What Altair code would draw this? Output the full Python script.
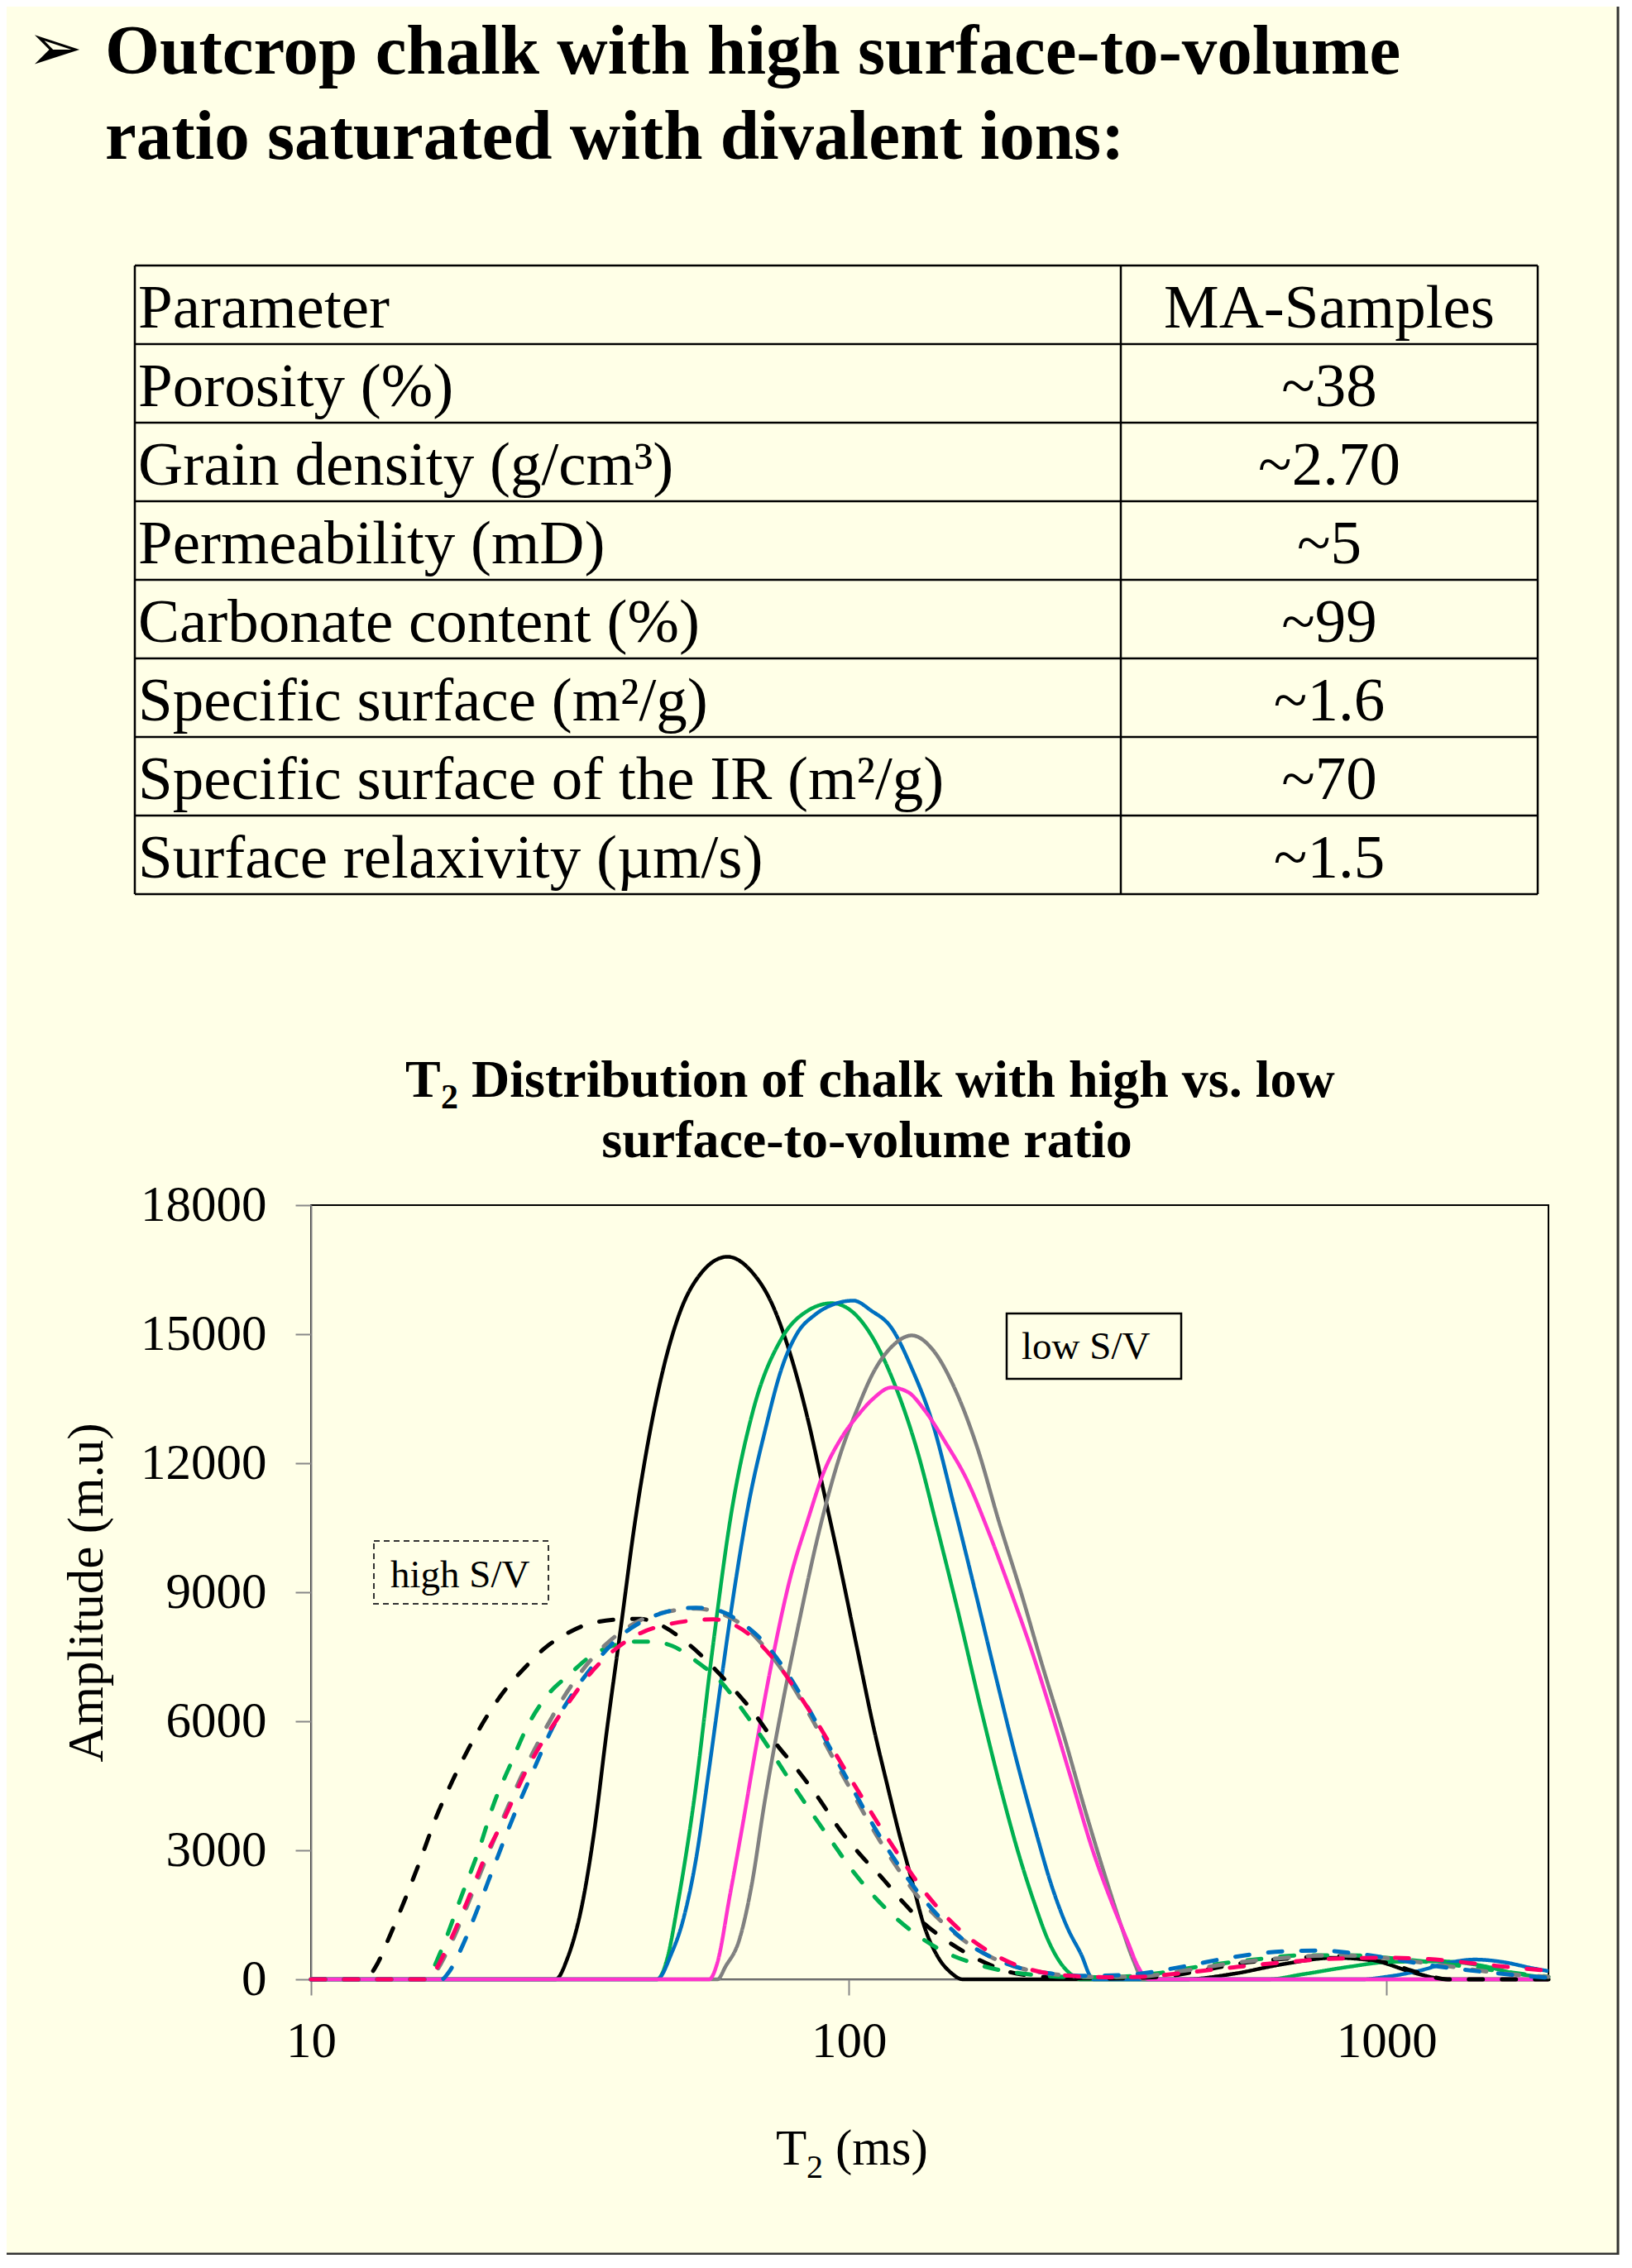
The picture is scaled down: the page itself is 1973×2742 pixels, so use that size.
import altair as alt
import pandas as pd

# ---------------- text content ----------------
HEADING_1 = "Outcrop chalk with high surface-to-volume"
HEADING_2 = "ratio saturated with divalent ions:"
TABLE_HEADER = ["Parameter", "MA-Samples"]
PARAMS = ["Porosity (%)", "Grain density (g/cm³)", "Permeability (mD)",
          "Carbonate content (%)", "Specific surface (m²/g)",
          "Specific surface of the IR (m²/g)", "Surface relaxivity (µm/s)"]
VALUES = ["~38", "~2.70", "~5", "~99", "~1.6", "~70", "~1.5"]

X_TICKS = [10, 100, 1000]
Y_TICKS = [0, 3000, 6000, 9000, 12000, 15000, 18000]

# ---------------- T2 distributions (T2 in ms, amplitude in m.u) ----------------
LOW_BLACK_T = [10, 28.5, 30, 32, 33.5, 35.5, 37.7, 40, 42.5, 45, 48.5, 53, 59.5, 66, 72, 78, 84, 90, 96, 104, 111, 118, 124, 131, 138, 146, 155, 163, 420, 520, 640, 800, 950, 1140, 1300, 2000]
LOW_BLACK_A = [0, 0, 500, 1800, 3300, 5800, 8200, 10600, 12600, 14100, 15500, 16400, 16800, 16450, 15700, 14500, 13000, 11300, 9700, 7600, 5900, 4500, 3400, 2300, 1250, 550, 150, 0, 0, 130, 350, 500, 430, 130, 0, 0]

LOW_GREEN_T = [10, 44, 46, 48, 51.6, 55.7, 60.4, 66.3, 75, 84, 93, 103, 111, 122, 134, 146, 160, 176, 192, 206, 221, 235, 247, 260, 270, 600, 700, 860, 1000, 1250, 1500, 1750, 2000]
LOW_GREEN_A = [0, 0, 500, 1700, 4200, 7600, 10800, 13200, 14900, 15550, 15720, 15450, 14900, 13800, 12300, 10500, 8500, 6300, 4400, 3000, 1800, 900, 400, 100, 0, 0, 120, 300, 400, 420, 320, 130, 40]

LOW_BLUE_T = [10, 44, 46.8, 49, 52, 55, 58, 61.5, 65, 70, 75, 80, 86.5, 94, 102, 110, 120, 131, 143, 157, 172, 188, 206, 222, 238, 255, 270, 285, 900, 1000, 1150, 1300, 1460, 1650, 1850, 2000]
LOW_BLUE_A = [0, 0, 600, 1300, 2800, 4900, 7000, 9200, 11000, 12800, 14200, 15000, 15450, 15700, 15780, 15550, 15150, 14200, 12950, 11000, 9000, 7000, 5000, 3500, 2200, 1200, 600, 0, 0, 60, 200, 380, 460, 400, 270, 190]

LOW_GRAY_T = [10, 57, 59, 62.5, 66, 69.7, 75, 80.5, 88, 96.4, 104, 111, 120, 131, 143, 158, 174, 190, 209, 229, 252, 275, 298, 321, 338, 353, 2000]
LOW_GRAY_A = [0, 0, 300, 900, 2200, 4100, 6300, 8200, 10400, 12200, 13300, 14100, 14700, 14970, 14650, 13690, 12300, 10660, 9000, 7300, 5600, 3940, 2500, 1245, 450, 0, 0]

LOW_MAGENTA_T = [10, 55, 57, 60, 63.5, 67, 72, 77.6, 84, 89.7, 97, 103.8, 111, 120, 129, 138, 151, 166, 182, 199, 218, 238, 260, 285, 308, 330, 345, 361, 2000]
LOW_MAGENTA_A = [0, 0, 400, 1900, 3600, 5300, 7400, 9270, 10700, 11770, 12600, 13100, 13500, 13760, 13650, 13250, 12500, 11600, 10400, 9100, 7700, 6200, 4600, 2950, 1800, 880, 300, 0, 0]

HIGH_BLACK_T = [10, 12.6, 13.2, 14, 15, 16, 17, 18.3, 19.7, 21.2, 22.7, 25, 27.2, 30, 32.6, 37.7, 41, 43.5, 50.3, 58, 67, 73, 80.5, 88, 96, 105, 115.5, 126, 138, 152, 166, 182, 199, 220, 240, 300, 380, 450, 540, 650, 815, 1000, 1150, 1300, 2000]
HIGH_BLACK_A = [0, 0, 300, 1000, 1900, 2800, 3700, 4600, 5400, 6100, 6650, 7250, 7700, 8050, 8250, 8370, 8380, 8300, 7800, 7050, 6150, 5500, 4850, 4200, 3500, 2900, 2350, 1800, 1300, 900, 600, 350, 170, 80, 40, 20, 60, 200, 380, 480, 540, 380, 150, 0, 0]

HIGH_GREEN_T = [10, 16.3, 16.7, 17.5, 19, 20.5, 21.9, 23.5, 25.3, 27.5, 30.3, 33, 36.3, 40, 43, 47, 52, 58, 64, 70, 77, 85, 93, 102, 112, 123, 135, 150, 168, 190, 215, 250, 300, 380, 450, 560, 700, 850, 1000, 1200, 1500, 1800, 2000]
HIGH_GREEN_A = [0, 0, 150, 700, 1900, 3000, 4100, 5000, 5900, 6600, 7100, 7500, 7750, 7850, 7850, 7750, 7400, 6900, 6200, 5500, 4700, 3900, 3200, 2500, 1900, 1400, 1000, 650, 400, 220, 120, 60, 50, 150, 300, 450, 560, 560, 500, 400, 250, 120, 60]

HIGH_GRAY_T = [10, 16.5, 17, 18, 19.5, 21, 22.5, 25, 27.5, 30, 33, 37, 41, 46, 52, 58, 64, 70, 77, 85, 93, 102, 112, 123, 135, 150, 166, 185, 210, 240, 280, 340, 420, 520, 650, 800, 950, 1150, 1400, 1700, 2000]
HIGH_GRAY_A = [0, 0, 150, 700, 1700, 2700, 3600, 4900, 5900, 6700, 7400, 8000, 8350, 8550, 8620, 8500, 8200, 7700, 7000, 6100, 5200, 4300, 3400, 2600, 1900, 1300, 850, 500, 250, 120, 60, 60, 200, 380, 500, 560, 520, 400, 250, 120, 60]

HIGH_BLUE_T = [10, 17.5, 18, 19, 20.5, 22, 24, 26, 28, 30.5, 33.5, 37, 41, 46, 52, 57, 63, 70, 77, 85, 93, 102, 112, 123, 135, 150, 166, 185, 210, 240, 280, 340, 420, 520, 640, 750, 880, 1000, 1200, 1500, 1800, 2000]
HIGH_BLUE_A = [0, 0, 150, 700, 1700, 2700, 3900, 4900, 5800, 6600, 7300, 7900, 8300, 8550, 8640, 8580, 8300, 7800, 7100, 6200, 5300, 4400, 3500, 2700, 2000, 1350, 850, 500, 250, 130, 80, 120, 300, 520, 650, 670, 600, 500, 330, 180, 80, 40]

HIGH_RED_T = [10, 16.5, 17, 18, 19.5, 21, 23, 25, 27.5, 30, 33, 37, 41, 46, 52, 56, 61, 67, 73, 80, 88, 96, 105, 115, 126, 138, 152, 168, 185, 205, 230, 260, 300, 350, 420, 520, 650, 800, 1000, 1200, 1500, 1800, 2000]
HIGH_RED_A = [0, 0, 200, 800, 1800, 2800, 3800, 4800, 5700, 6400, 7100, 7700, 8050, 8250, 8350, 8370, 8250, 7900, 7400, 6700, 5900, 5100, 4300, 3500, 2750, 2050, 1450, 950, 600, 330, 160, 80, 50, 60, 150, 280, 400, 480, 500, 470, 350, 250, 200]

SERIES = [
    ("low black", "#000000", False, LOW_BLACK_T, LOW_BLACK_A),
    ("low green", "#00B050", False, LOW_GREEN_T, LOW_GREEN_A),
    ("low blue", "#0070C0", False, LOW_BLUE_T, LOW_BLUE_A),
    ("low gray", "#808080", False, LOW_GRAY_T, LOW_GRAY_A),
    ("low magenta", "#FF33CC", False, LOW_MAGENTA_T, LOW_MAGENTA_A),
    ("high black", "#000000", True, HIGH_BLACK_T, HIGH_BLACK_A),
    ("high green", "#00B050", True, HIGH_GREEN_T, HIGH_GREEN_A),
    ("high gray", "#808080", True, HIGH_GRAY_T, HIGH_GRAY_A),
    ("high blue", "#0070C0", True, HIGH_BLUE_T, HIGH_BLUE_A),
    ("high red", "#FF0066", True, HIGH_RED_T, HIGH_RED_A),
]

BG = "#FFFFE7"
SERIF = "Liberation Serif"
W, H = 1496, 936
PAD = {"left": 368, "top": 1449, "right": 86, "bottom": 333}

xscale = alt.Scale(type="log", domain=[10, 2000], nice=False)
yscale = alt.Scale(domain=[0, 18000], nice=False, zero=True)
xaxis = alt.Axis(values=X_TICKS, format="d", title=None, labelFont=SERIF, labelFontSize=61,
                 labelColor="black", labelPadding=26, tickSize=19, tickWidth=2, tickColor="#888888",
                 domainColor="#888888", domainWidth=2, grid=False, labelFlush=False)
yaxis = alt.Axis(values=Y_TICKS, format="d", title="Amplitude (m.u)", labelFont=SERIF, labelFontSize=61,
                 labelColor="black", labelPadding=35, tickSize=19, tickWidth=2, tickColor="#888888",
                 domainColor="#888888", domainWidth=2, grid=False,
                 titleFont=SERIF, titleFontSize=61, titleFontWeight="normal", titleColor="black",
                 titleAngle=270, titleX=-271, titleY=468, titleAlign="center", titleBaseline="middle")

line_layers = []
for name, color, dashed, ts, amps in SERIES:
    df = pd.DataFrame({"t": ts, "a": amps})
    mk = alt.Chart(df).mark_line(
        color=color, strokeWidth=5 if dashed else 4.5, interpolate="monotone",
        strokeDash=[17, 23] if dashed else [1, 0], strokeCap="round" if dashed else "butt",
        strokeJoin="round")
    line_layers.append(mk.encode(x=alt.X("t:Q", scale=xscale, axis=xaxis),
                                 y=alt.Y("a:Q", scale=yscale, axis=yaxis)))
lines = alt.layer(*line_layers)

# ---------------- table ----------------
tscale = alt.Scale(domain=[0, 8], range=[-1136, -376], nice=False, zero=False)
TL, TD, TR = -213, 979, 1483
rows_df = pd.DataFrame({"param": [TABLE_HEADER[0]] + PARAMS,
                        "value": [TABLE_HEADER[1]] + VALUES,
                        "row": list(range(1, 9))})
hl_df = pd.DataFrame({"row": list(range(9))})
vl_df = pd.DataFrame({"row": [0], "row2": [8]})

hlines = alt.Chart(hl_df).mark_rule(color="black", strokeWidth=2.5).encode(
    y=alt.Y("row:Q", scale=tscale, axis=None), x=alt.value(TL), x2=alt.value(TR))
vlines = [alt.Chart(vl_df).mark_rule(color="black", strokeWidth=2.5).encode(
    y=alt.Y("row:Q", scale=tscale, axis=None), y2="row2:Q", x=alt.value(px)) for px in (TL, TD, TR)]
ptext = alt.Chart(rows_df).mark_text(font=SERIF, fontSize=75, align="left", baseline="alphabetic",
                                     dy=-20, color="black").encode(
    y=alt.Y("row:Q", scale=tscale, axis=None), x=alt.value(TL + 4), text="param:N")
vtext = alt.Chart(rows_df).mark_text(font=SERIF, fontSize=75, align="center", baseline="alphabetic",
                                     dy=-20, color="black").encode(
    y=alt.Y("row:Q", scale=tscale, axis=None), x=alt.value((TD + TR) / 2), text="value:N")
table = alt.layer(hlines, *vlines, ptext, vtext)

# ---------------- annotations ----------------
one = pd.DataFrame({"k": [0]})


def txt(s, x, y, size, weight="normal", align="left", font=SERIF, baseline="alphabetic"):
    return alt.Chart(one).mark_text(text=s, font=font, fontSize=size, fontWeight=weight,
                                    align=align, baseline=baseline, color="black").encode(
        x=alt.value(x), y=alt.value(y))


def box(x1, x2, y1, y2, dash=None, color="black", width=2.5):
    kw = dict(fill=BG, fillOpacity=0, stroke=color, strokeWidth=width)
    if dash:
        kw["strokeDash"] = dash
    return alt.Chart(one).mark_rect(**kw).encode(
        x=alt.value(x1), x2=alt.value(x2), y=alt.value(y1), y2=alt.value(y2))


annots = [
    txt("➢", -343, -1372, 80, font="DejaVu Sans"),
    txt(HEADING_1, -249, -1368, 85, weight="bold"),
    txt(HEADING_2, -249, -1265, 85, weight="bold"),
    # chart title
    txt("T", 114, -131, 64, weight="bold"),
    txt("2", 157, -117, 42, weight="bold"),
    txt("Distribution of chalk with high vs. low", 194, -131, 64, weight="bold"),
    txt("surface-to-volume ratio", 672, -58, 64, weight="bold", align="center"),
    # x axis title
    txt("T", 562, 1160, 61),
    txt("2", 599, 1176, 40),
    txt("(ms)", 634, 1160, 61),
    # box labels
    box(76, 287, 406, 482, dash=[7, 5], color="#333333", width=2),
    txt("high S/V", 96, 462, 47),
    box(841, 1052, 131, 210),
    txt("low S/V", 859, 186, 47),
    # slide frame
    alt.Chart(one).mark_rule(color="#333333", strokeWidth=3).encode(
        x=alt.value(1580), y=alt.value(-1449), y2=alt.value(1269)),
    alt.Chart(one).mark_rule(color="#333333", strokeWidth=3).encode(
        x=alt.value(-368), x2=alt.value(1581), y=alt.value(1268)),
]

chart = alt.layer(lines, table, *annots).resolve_scale(y="independent").properties(
    width=W, height=H,
    autosize=alt.AutoSizeParams(type="none"),
    padding=PAD,
).configure(background=BG).configure_view(stroke="black", strokeWidth=2, fill=None)

chart.save("out.html", embed_options={"renderer": "svg", "actions": False})
